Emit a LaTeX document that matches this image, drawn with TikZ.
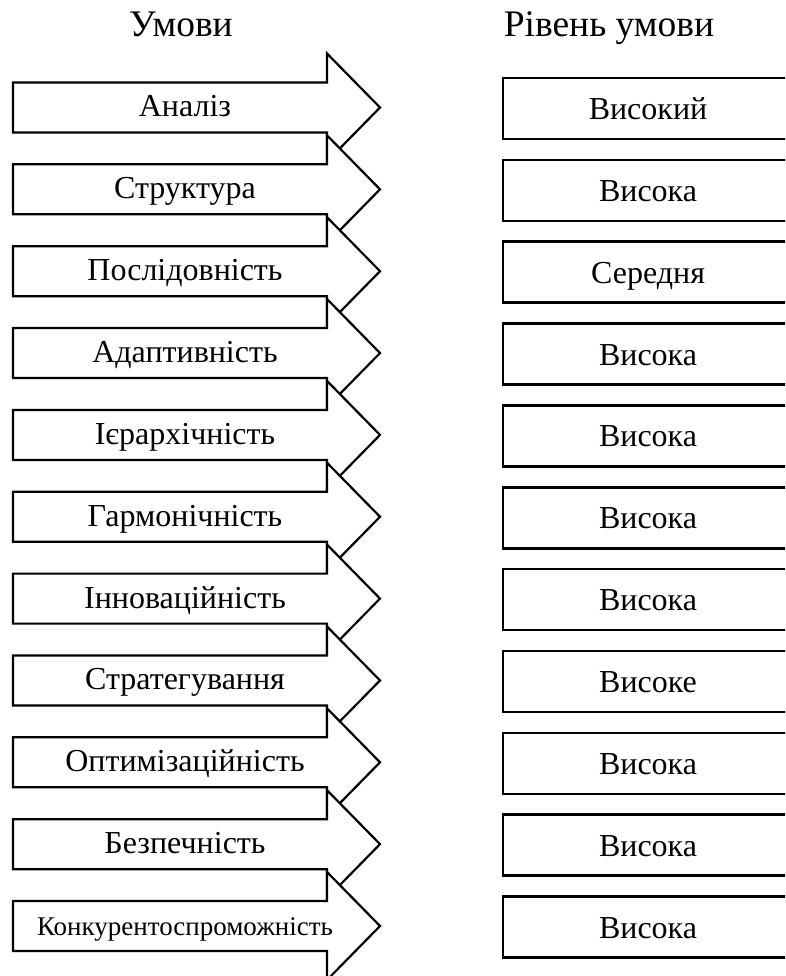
\documentclass[tikz,border=0pt]{standalone}
\usepackage{fontspec}
\setmainfont{Liberation Serif}
\usepackage{tikz}
\tikzstyle{strilka} = [%
					line width = 2.2pt,
					draw = black,
					fill = white]
\tikzstyle{umova} = [%
					font = \fontsize{32}{36}\selectfont,
					inner sep = 0pt,
					anchor = base]
\tikzstyle{riven} = [%
					draw,
					line width = 2.5pt,
					fill = white,
					minimum width = 290pt,
					minimum height = 61pt,
					text height = 22pt,
					text depth = 0pt,
					inner sep = 0pt,
					font = \fontsize{32}{36}\selectfont]
\tikzstyle{zagolovok} = [%
					font = \fontsize{37.5}{42}\selectfont,
					anchor = base]
\newcommand{\konk}{\fontsize{27}{30}\selectfont}

\begin{document}
\begin{tikzpicture}[x=1pt, y=-1pt]
		
		% Frame
		\useasboundingbox (0,0) rectangle (785,976);
		\clip (0,0) rectangle (785,976);
		
		% Headers
		\node[zagolovok] (h1) at (181,37) {Умови};
		\node[zagolovok] (h2) at (609,37) {Рівень умови};
		
		% Rows
		\foreach \nazva/\stupin [count=\i] in {Аналіз/Високий, Структура/Висока, Послідовність/Середня, Адаптивність/Висока, Ієрархічність/Висока, Гармонічність/Висока, Інноваційність/Висока, Стратегування/Високе, Оптимізаційність/Висока, Безпечність/Висока, {\konk Конкурентоспроможність}/Висока}
		{
			\pgfmathsetmacro{\yy}{107.5 + 81.85*(\i-1)}
			%% Arrow
			\draw[strilka] (13,\yy-25) -- (327,\yy-25) -- (327,\yy-54) -- (380,\yy) -- (327,\yy+54) -- (327,\yy+25) -- (13,\yy+25) -- cycle;
			\node[umova] (u\i) at (185,\yy+9.5) {\nazva};
			%% Level
			\node[riven] (r\i) at (648,\yy+1) {\stupin};
		}
	\end{tikzpicture}
\end{document}
